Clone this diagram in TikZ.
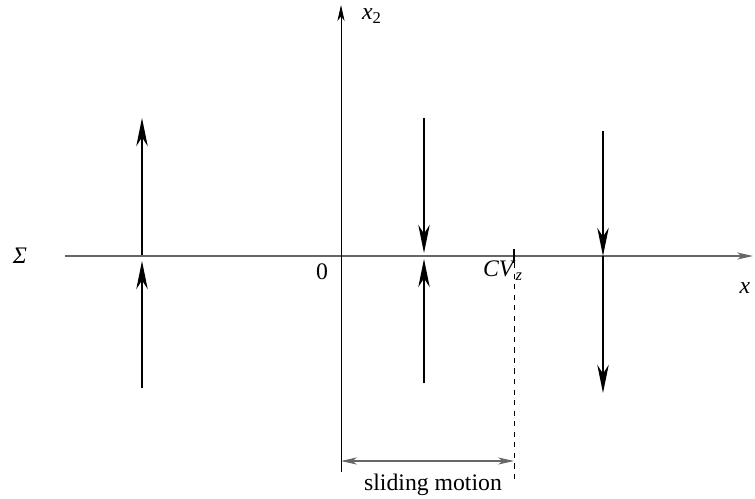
\documentclass[tikz,border=0pt]{standalone}
\usepackage{fontspec}
\setmainfont{Liberation Serif}
\usetikzlibrary{arrows.meta}
\begin{document}
\begin{tikzpicture}[x=0.02cm,y=-0.02cm]
      \tikzset{axis/.style={draw=black!60, line width=0.6pt},
               force/.style={draw, line width=1.15pt, -{Stealth[length=16pt,width=6.5pt,inset=5pt]}},
               lbl/.style={font=\fontsize{13.5}{16}\selectfont, inner sep=1pt}}
      \useasboundingbox (0,0) rectangle (755,498);
%% Axes
      	\coordinate (xs) at (65,256);
      	\coordinate (xe) at (753,256);
      	\coordinate (ys) at (341,472);
      	\coordinate (ye) at (341,5);
      	\node[lbl] (sigma) at (20,256) {\textit{Σ}};
      	\node[lbl] (orig) at (322,272) {0};
      	\node[lbl] (xlab) at (745,288) {\textit{x}};
      	\node[lbl] (x2lab) at (372,16) {\textit{x}\textsubscript{2}};
      	\node[lbl] (cvz) at (503,271) {\textit{CV}\textsubscript{\textit{z}}};
      	\node[lbl] (slide) at (433,485) {sliding motion};
%% Forces
      	\coordinate (la) at (142,255); \coordinate (lb) at (142,118);
      	\coordinate (lc) at (142,388); \coordinate (ld) at (142,261);
      	\coordinate (ma) at (424,118); \coordinate (mb) at (424,253);
      	\coordinate (mc) at (424,383); \coordinate (md) at (424,259);
      	\coordinate (ra) at (603,131); \coordinate (rb) at (603,256);
      	\coordinate (rc) at (603,256); \coordinate (rd) at (603,393);
%% Sliding zone
      	\coordinate (ta) at (514,249); \coordinate (tb) at (514,263);
      	\coordinate (tc) at (514,484);
      	\coordinate (sa) at (341,461); \coordinate (sb) at (514,461);
%Edges
		\path[axis, -{Stealth[length=9pt,width=4pt,inset=2.5pt]}] (xs) -- (xe);
		\path[draw, line width=0.5pt, -{Stealth[length=9pt,width=4pt,inset=2.5pt]}] (ys) -- (ye);
		\path[force] (la) -- (lb);
		\path[force] (lc) -- (ld);
		\path[force] (ma) -- (mb);
		\path[force] (mc) -- (md);
		\path[force] (ra) -- (rb);
		\path[force] (rc) -- (rd);
		\path[draw, line width=1.4pt] (ta) -- (tb);
		\path[draw, line width=0.5pt, dashed] (tb) -- (tc);
		\path[axis, {Stealth[length=9pt,width=4pt,inset=2.5pt]}-{Stealth[length=9pt,width=4pt,inset=2.5pt]}] (sa) -- (sb);
	\end{tikzpicture}
\end{document}
